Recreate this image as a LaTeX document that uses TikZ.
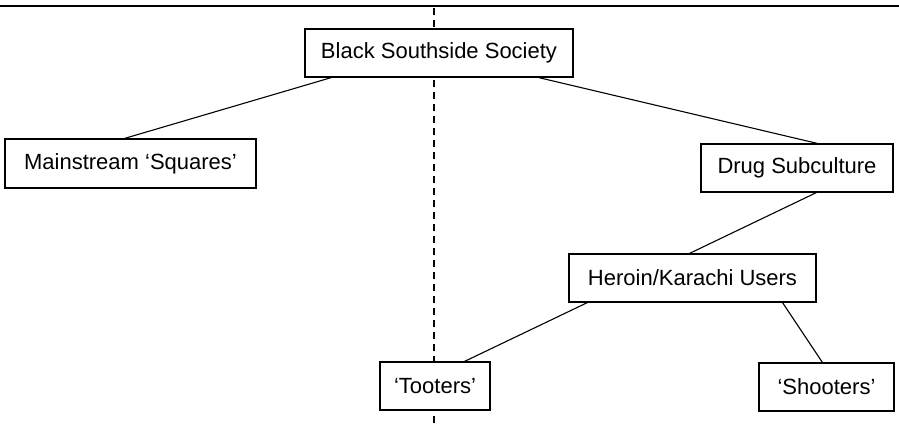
\documentclass[tikz,border=0pt]{standalone}
\usepackage{fontspec}
\setmainfont{Liberation Sans}
\usetikzlibrary{calc}
\begin{document}
\begin{tikzpicture}[x=1pt,y=-1pt,
  box/.style={draw,fill=white,line width=1.1pt,inner sep=0pt,
    font=\fontsize{22}{26}\selectfont,minimum height=48pt},
  conn/.style={line width=1.1pt}]
\useasboundingbox (0,0) rectangle (899,426);
\coordinate (tl) at (0,6);
\coordinate (tr) at (899,6);
\draw[line width=1.1pt] (tl) -- (tr);
\coordinate (dtop) at (434,8);
\coordinate (dbot) at (434,426);
\draw[line width=1.1pt,dash pattern=on 7pt off 5pt] (dtop) -- (dbot);
\node[box,minimum width=268pt] (bss) at (439,53) {Black Southside Society};
\node[box,minimum width=251pt,minimum height=49pt] (main) at (130.5,163.5) {Mainstream ‘Squares’};
\node[box,minimum width=192pt] (drug) at (797,168) {Drug Subculture};
\node[box,minimum width=247pt] (her) at (692.5,278) {Heroin/Karachi Users};
\node[box,minimum width=110pt] (toot) at (435,386) {‘Tooters’};
\node[box,minimum width=135pt] (shoot) at (826.5,387) {‘Shooters’};
\draw[conn] ($(bss.south west)+(27,0)$) -- ($(main.north west)+(120,0)$);
\draw[conn] ($(bss.south east)+(-35,0)$) -- ($(drug.north west)+(117,0)$);
\draw[conn] ($(drug.south west)+(116,0)$) -- ($(her.north west)+(121,0)$);
\draw[conn] ($(her.south west)+(19,0)$) -- ($(toot.north west)+(85,0)$);
\draw[conn] ($(her.south west)+(214,0)$) -- ($(shoot.north west)+(64,0)$);
\end{tikzpicture}
\end{document}
